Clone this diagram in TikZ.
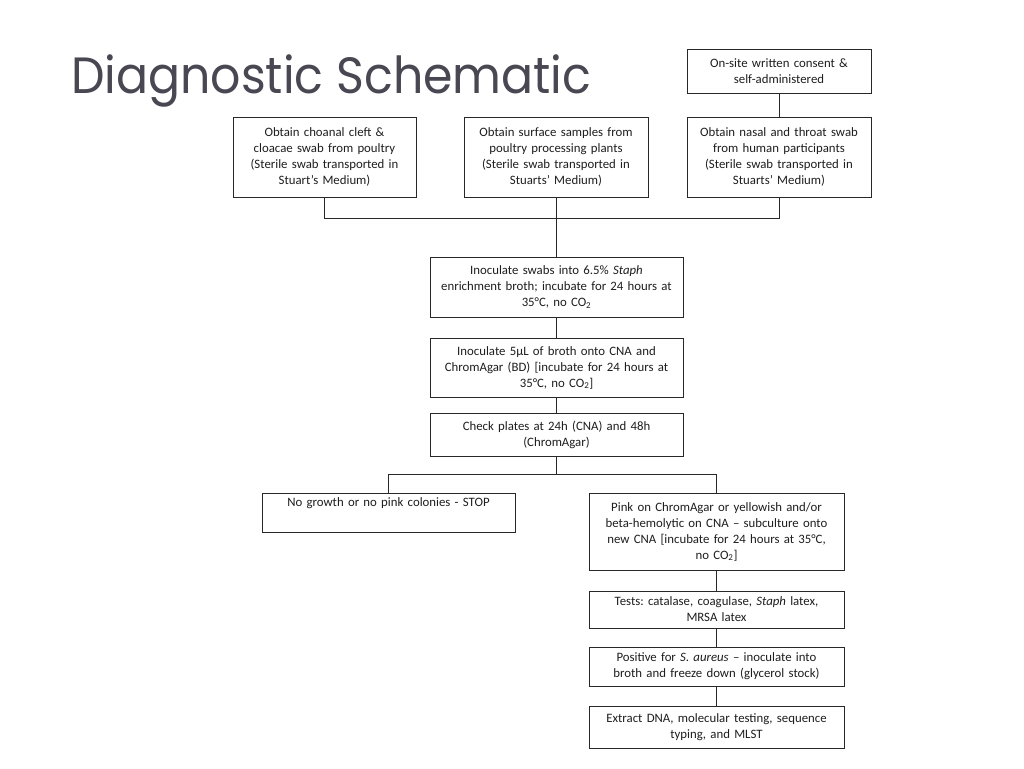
\documentclass[tikz,border=0pt]{standalone}
\usepackage{fontspec}
\setmainfont{Carlito}
\newfontfamily\titlefont{Poppins}
\definecolor{titlegray}{RGB}{72,71,82}
\definecolor{boxline}{RGB}{40,40,40}
\definecolor{boxtext}{RGB}{30,30,30}
\frenchspacing
\begin{document}
\begin{tikzpicture}[x=1pt,y=-1pt,
  box/.style={draw=boxline, line width=0.9pt, align=center, inner sep=0pt,
    font=\fontsize{12.8}{16}\selectfont, text=boxtext},
  link/.style={draw=boxline, line width=0.9pt}]
\useasboundingbox (0,0) rectangle (1024,768);
\fill[white] (0,0) rectangle (1024,768);

\node[anchor=base west, inner sep=0pt, text=titlegray,
  font=\titlefont\fontsize{51}{60}\selectfont] (title) at (71,93) {\scalebox{0.93}[1]{Diagnostic Schematic}};

\node[box, minimum width=184pt, minimum height=44pt, text width=180pt] (consent) at (779,71)
  {On-site written consent \&\\ self-administered};

\node[box, minimum width=183pt, minimum height=80pt, text width=180pt] (obtA) at (324.5,157)
  {Obtain choanal cleft \&\\ cloacae swab from poultry\\ (Sterile swab transported in\\ Stuart’s Medium)};
\node[box, minimum width=184pt, minimum height=80pt, text width=180pt] (obtB) at (556,157)
  {Obtain surface samples from\\ poultry processing plants\\ (Sterile swab transported in\\ Stuarts’ Medium)};
\node[box, minimum width=184pt, minimum height=80pt, text width=180pt] (obtC) at (779,157)
  {Obtain nasal and throat swab\\ from human participants\\ (Sterile swab transported in\\ Stuarts’ Medium)};

\node[box, minimum width=253pt, minimum height=60pt, text width=249pt] (inoc1) at (556.5,287)
  {Inoculate swabs into 6.5\% \textit{Staph}\\ enrichment broth; incubate for 24 hours at\\ 35°C, no CO\textsubscript{2}};
\node[box, minimum width=253pt, minimum height=59pt, text width=249pt] (inoc2) at (556.5,367.5)
  {Inoculate 5µL of broth onto CNA and\\ ChromAgar (BD) [incubate for 24 hours at\\ 35°C, no CO\textsubscript{2}]};
\node[box, minimum width=253pt, minimum height=43pt, text width=249pt] (check) at (556.5,434.5)
  {Check plates at 24h (CNA) and 48h\\ (ChromAgar)};

\node[box, minimum width=253pt, minimum height=39pt, text width=249pt] (stop) at (388.5,512.5)
  {No growth or no pink colonies - STOP\\ \strut};
\node[box, minimum width=255pt, minimum height=77pt, text width=251pt] (pink) at (716.5,531.5)
  {Pink on ChromAgar or yellowish and/or\\ beta-hemolytic on CNA – subculture onto\\ new CNA [incubate for 24 hours at 35°C,\\ no CO\textsubscript{2}]};
\node[box, minimum width=255pt, minimum height=37pt, text width=251pt] (tests) at (716.5,609.5)
  {Tests: catalase, coagulase, \textit{Staph} latex,\\ MRSA latex};
\node[box, minimum width=255pt, minimum height=39pt, text width=251pt] (positive) at (716.5,666.5)
  {Positive for \textit{S. aureus} – inoculate into\\ broth and freeze down (glycerol stock)};
\node[box, minimum width=255pt, minimum height=42pt, text width=251pt] (extract) at (716.5,727)
  {Extract DNA, molecular testing, sequence\\ typing, and MLST};

\draw[link] (consent.south) -- (obtC.north);
\draw[link] (obtA.south) -- ++(0,21) -| (obtC.south);
\draw[link] (obtB.south) -- (obtB.south |- inoc1.north);
\draw[link] (inoc1.south) -- (inoc1.south |- inoc2.north);
\draw[link] (inoc2.south) -- (inoc2.south |- check.north);
\draw[link] (check.south) -- ++(0,17.5) coordinate (split);
\draw[link] (stop.north) |- (split) -| (pink.north);
\draw[link] (pink.south) -- (pink.south |- tests.north);
\draw[link] (tests.south) -- (tests.south |- positive.north);
\draw[link] (positive.south) -- (positive.south |- extract.north);
\end{tikzpicture}
\end{document}
